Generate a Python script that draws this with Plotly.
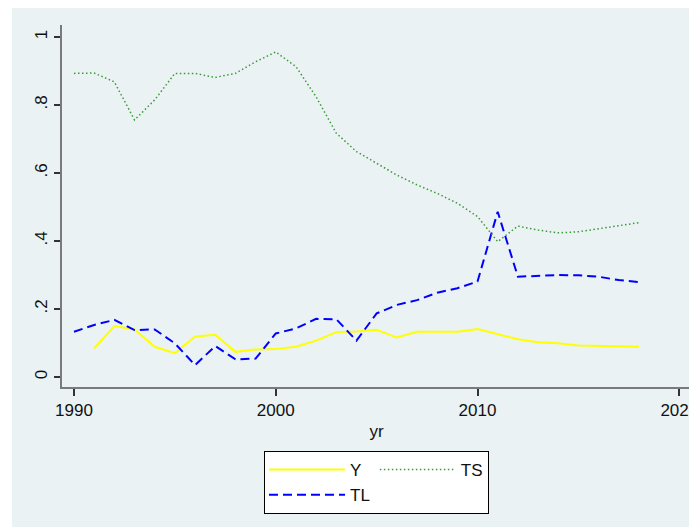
import plotly.graph_objects as go

years = list(range(1990, 2019))
y_years = list(range(1991, 2019))

Y = [0.084, 0.150, 0.140, 0.089, 0.070, 0.119, 0.124, 0.074, 0.081, 0.082,
     0.089, 0.107, 0.132, 0.134, 0.139, 0.116, 0.133, 0.134, 0.133, 0.141,
     0.125, 0.111, 0.102, 0.099, 0.093, 0.091, 0.090, 0.089]

TL = [0.133, 0.153, 0.168, 0.138, 0.140, 0.099, 0.035, 0.091, 0.052, 0.054,
      0.128, 0.143, 0.171, 0.170, 0.107, 0.187, 0.212, 0.226, 0.248, 0.261,
      0.281, 0.486, 0.295, 0.297, 0.300, 0.299, 0.295, 0.285, 0.279]

TS = [0.893, 0.894, 0.868, 0.756, 0.815, 0.893, 0.893, 0.881, 0.893, 0.927,
      0.956, 0.913, 0.824, 0.717, 0.663, 0.628, 0.594, 0.565, 0.540, 0.511,
      0.472, 0.398, 0.444, 0.432, 0.424, 0.427, 0.437, 0.445, 0.454]

y_tickvals = [0, 0.2, 0.4, 0.6, 0.8, 1]
y_ticktext = ["0", ".2", ".4", ".6", ".8", "1"]
x_tickvals = [1990, 2000, 2010, 2020]

BG = "#eaf2f3"
FONT = "Liberation Sans, Arial, sans-serif"

fig = go.Figure()
fig.add_trace(go.Scatter(x=y_years, y=Y, name="Y", mode="lines",
                         line=dict(color="#ffff00", width=2),
                         legendgroup="a"))
fig.add_trace(go.Scatter(x=years, y=TL, name="TL", mode="lines",
                         line=dict(color="#0000ff", width=2, dash="9px,5px"),
                         legendgroup="a"))
fig.add_trace(go.Scatter(x=years, y=TS, name="TS", mode="lines",
                         line=dict(color="#3a9a3a", width=1.5, dash="1.5px,2.5px"),
                         legendgroup="b"))

# figure sits at (8, 8) in the page because of the default body margin
W, H = 689, 519
L, R, T, B = 54, 6, 17, 140
PW, PH = W - L - R, H - T - B

fig.update_layout(
    width=W, height=H,
    margin=dict(l=L, r=R, t=T, b=B),
    paper_bgcolor="white",
    plot_bgcolor="white",
    font=dict(family=FONT, size=17, color="#111111"),
    showlegend=True,
    legend=dict(orientation="h", traceorder="grouped", tracegroupgap=66,
                itemwidth=76,
                x=0.5, xanchor="center", y=-64 / PH, yanchor="top",
                bordercolor="#000000", borderwidth=1, bgcolor="white",
                font=dict(family=FONT, size=17)),
    shapes=[dict(type="rect", xref="paper", yref="paper",
                 x0=(4 - L) / PW, x1=1.05, y0=-0.45, y1=1 + (T + 2) / PH,
                 fillcolor=BG, line=dict(width=0), layer="below")],
)

fig.update_xaxes(range=[1989.405, 2020.58], tickvals=x_tickvals,
                 ticks="outside", ticklen=7, tickwidth=1.5, tickcolor="#333333",
                 showgrid=False, zeroline=False, automargin=False,
                 ticklabeloverflow="allow",
                 showline=True, linecolor="#7a7a7a", linewidth=2,
                 title=dict(text="yr", standoff=6, font=dict(size=17)),
                 tickfont=dict(size=17))
fig.update_yaxes(range=[-0.0294, 1.0353], tickvals=y_tickvals, ticktext=y_ticktext,
                 ticks="outside", ticklen=6, tickwidth=1.5, tickcolor="#333333",
                 tickangle=-90, automargin=False,
                 showgrid=True, gridcolor=BG, gridwidth=1.5, zeroline=False,
                 showline=True, linecolor="#7a7a7a", linewidth=2,
                 tickfont=dict(size=17))

fig.write_html("out.html")
